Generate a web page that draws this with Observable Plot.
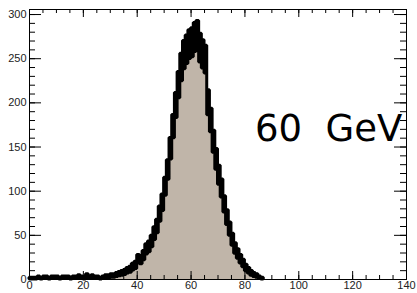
<!DOCTYPE html>
<html>
<head>
<meta charset="utf-8">
<script src="https://cdn.jsdelivr.net/npm/d3@7"></script>
<script src="https://cdn.jsdelivr.net/npm/@observablehq/plot@0.6"></script>
<style>
  html, body { margin: 0; padding: 0; background: #fff; }
  #wrap { position: relative; width: 417px; height: 293px; overflow: hidden; }
  #label { position: absolute; left: 255px; top: 110px;
           font-family: "DejaVu Sans", sans-serif; font-size: 37px; line-height: 38px;
           white-space: pre; color: #000; }
</style>
</head>
<body>
<div id="wrap"><div id="label">60  GeV</div></div>
<script>
// Histogram: 1 GeV bins from 0 to 140
const xMin = 0;
const binWidth = 1;
const counts = [
  1,1,1,2,1,2,2,1,2,2, 2,1,2,2,2,1,2,2,3,2,
  1,4,2,3,2,2,1,2,3,3, 4,4,5,6,7,8,10,11,14,16,
  23,22,27,34,37,43,52,60,74,87, 105,124,148,173,197,220,240,254,260,266,
  268,274,276,262,255,249,200,180,156,136, 118,103,85,70,57,45,35,29,23,18,
  13,10,7,5,4,2,1,0,0,0, 0,0,0,0,0,0,0,0,0,0,
  0,0,0,0,0,0,0,0,0,0, 0,0,0,0,0,0,0,0,0,0,
  0,0,0,0,0,0,0,0,0,0, 0,0,0,0,0,0,0,0,0,0
];
const xTicksMajor = [0, 20, 40, 60, 80, 100, 120, 140];
const xTicksMinor = d3.range(0, 141, 5);
const yTicksMajor = [0, 50, 100, 150, 200, 250, 300];
const yTicksMinor = d3.range(0, 301, 10);
const xDomain = [0, 140];
const yDomain = [0, 305.7];

// step points: each bin contributes its left and right edge at its count
const steps = [];
counts.forEach((c, i) => {
  const x0 = xMin + i * binWidth, x1 = x0 + binWidth;
  const e = Math.sqrt(c);
  const lo = c > 0 ? c - e : NaN, hi = c > 0 ? c + e : NaN;
  steps.push({x: x0, c, lo, hi});
  steps.push({x: x1, c, lo, hi});
});

const W = 417, H = 293, mL = 29, mR = 11, mT = 9, mB = 14;
const fw = W - mL - mR, fh = H - mT - mB;

const chart = Plot.plot({
  width: W, height: H,
  marginLeft: mL, marginRight: mR, marginTop: mT, marginBottom: mB,
  x: {domain: xDomain},
  y: {domain: yDomain},
  style: {fontFamily: "'Liberation Sans', Arial, sans-serif", fontSize: "11px", color: "#222", background: "#fff"},
  marks: [
    Plot.areaY(steps, {x: "x", y1: 0, y2: "c", fill: "#c0b5a9", curve: "linear"}),
    Plot.areaY(steps, {x: "x", y1: "lo", y2: "hi", fill: "#000", stroke: "#000", strokeWidth: 3, strokeLinejoin: "miter", curve: "linear"}),
    Plot.frame({stroke: "#000", strokeWidth: 1}),
    // y ticks, left and right, inward
    Plot.tickY(yTicksMajor, {y: d => d, stroke: "#000", insetRight: fw - 12}),
    Plot.tickY(yTicksMinor, {y: d => d, stroke: "#000", insetRight: fw - 6}),
    Plot.tickY(yTicksMajor, {y: d => d, stroke: "#000", insetLeft: fw - 12}),
    Plot.tickY(yTicksMinor, {y: d => d, stroke: "#000", insetLeft: fw - 6}),
    // x ticks, bottom and top, inward
    Plot.tickX(xTicksMajor, {x: d => d, stroke: "#000", insetTop: fh - 8}),
    Plot.tickX(xTicksMinor, {x: d => d, stroke: "#000", insetTop: fh - 4}),
    Plot.tickX(xTicksMajor, {x: d => d, stroke: "#000", insetBottom: fh - 8}),
    Plot.tickX(xTicksMinor, {x: d => d, stroke: "#000", insetBottom: fh - 4}),
    Plot.axisY({ticks: yTicksMajor, tickSize: 0, tickPadding: 3, label: null}),
    Plot.axisX({ticks: xTicksMajor, tickSize: 0, tickPadding: 2, label: null})
  ]
});
document.getElementById("wrap").prepend(chart);
</script>
</body>
</html>
